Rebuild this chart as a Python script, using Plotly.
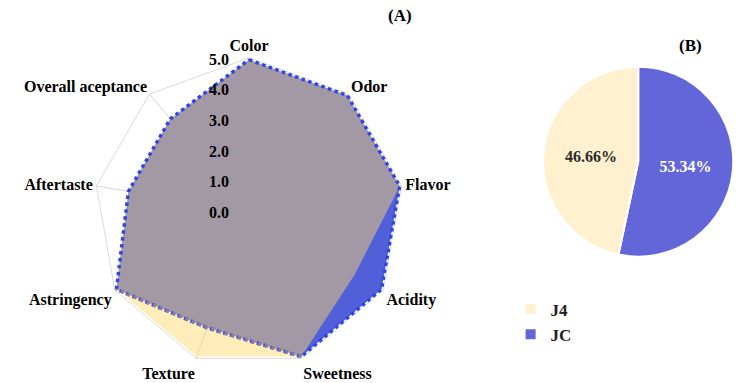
import plotly.graph_objects as go

categories = ["Color", "Odor", "Flavor", "Acidity", "Sweetness", "Texture",
              "Astringency", "Aftertaste", "Overall aceptance"]
j4_scores = [5.0, 5.0, 5.0, 4.0, 5.0, 5.0, 5.0, 4.0, 4.0]
jc_scores = [5.0, 5.0, 5.0, 5.0, 5.0, 4.0, 5.0, 4.0, 4.0]
radial_ticks = [0, 1, 2, 3, 4, 5]

pie_labels = ["JC", "J4"]
pie_values = [53.34, 46.66]
pie_colors = ["#6366D9", "#FFF1CF"]
pie_text_colors = ["white", "#2a2a2a"]

FONT = "Liberation Serif"

fig = go.Figure()

closed_theta = categories + [categories[0]]
# JC fill
fig.add_trace(go.Scatterpolar(
    r=jc_scores + [jc_scores[0]], theta=closed_theta,
    fill="toself", fillcolor="#5160D9", line=dict(width=0, color="rgba(0,0,0,0)"),
    mode="lines", name="JC", showlegend=False, hoverinfo="skip",
))
# J4 fill (translucent, over JC)
fig.add_trace(go.Scatterpolar(
    r=j4_scores + [j4_scores[0]], theta=closed_theta,
    fill="toself", fillcolor="rgba(255,217,106,0.47)",
    line=dict(color="rgba(0,0,0,0)", width=0),
    mode="lines", name="J4", showlegend=False, hoverinfo="skip",
))
# JC dotted outline
fig.add_trace(go.Scatterpolar(
    r=jc_scores + [jc_scores[0]], theta=closed_theta,
    line=dict(color="#2F43E8", width=3.5, dash="dot"),
    mode="lines", name="JC", showlegend=False,
))
# part of the JC outline that lies inside the J4 area appears muted
idx = [4, 5, 6]
fig.add_trace(go.Scatterpolar(
    r=[jc_scores[i] for i in idx], theta=[categories[i] for i in idx],
    line=dict(color="#8B7CA3", width=3.5, dash="dot"),
    mode="lines", name="JC", showlegend=False, hoverinfo="skip",
))

fig.add_trace(go.Pie(
    labels=pie_labels, values=pie_values, sort=False, direction="counterclockwise",
    marker=dict(colors=pie_colors, line=dict(color="white", width=2)),
    texttemplate="%{value:.2f}%", textposition="inside",
    insidetextfont=dict(family=FONT, size=16, color=pie_text_colors, weight="bold"),
    domain=dict(x=[0.733, 0.992], y=[0.33, 0.826]),
    hoverinfo="label+percent",
))

fig.update_layout(
    width=740, height=383,
    margin=dict(l=0, r=0, t=0, b=0),
    paper_bgcolor="white", plot_bgcolor="white",
    font=dict(family=FONT, size=15, color="black"),
    polar=dict(
        domain=dict(x=[0.1270, 0.5460], y=[0.040, 0.849]),
        bgcolor="white",
        gridshape="linear",
        radialaxis=dict(
            range=[0, 5.06], tickvals=radial_ticks, tickformat=".1f",
            angle=90, tickangle=90, side="counterclockwise",
            showline=False, showgrid=False,
            ticks="outside", ticklen=14, tickcolor="rgba(0,0,0,0)",
            tickfont=dict(family=FONT, size=16, color="black", weight="bold"),
            layer="above traces",
        ),
        angularaxis=dict(
            rotation=90, direction="clockwise",
            showline=True, linecolor="#DADADA", linewidth=1,
            showgrid=True, gridcolor="#D6D6D6", gridwidth=1,
            ticks="",
            tickfont=dict(family=FONT, size=16, color="black", weight="bold"),
            layer="below traces",
        ),
    ),
    legend=dict(
        x=0.69, y=1 - 322 / 383, xanchor="left", yanchor="middle",
        font=dict(family=FONT, size=17, color="#222", weight="bold"),
        bgcolor="rgba(0,0,0,0)", traceorder="reversed",
    ),
    showlegend=True,
)

for txt, px, py in [("(A)", 400, 16), ("(B)", 690, 45)]:
    fig.add_annotation(text=txt, x=px / 740, y=1 - py / 383, xref="paper", yref="paper",
                       xanchor="center", yanchor="middle", showarrow=False,
                       font=dict(family=FONT, size=17, weight="bold"))

fig.write_html("out.html")
